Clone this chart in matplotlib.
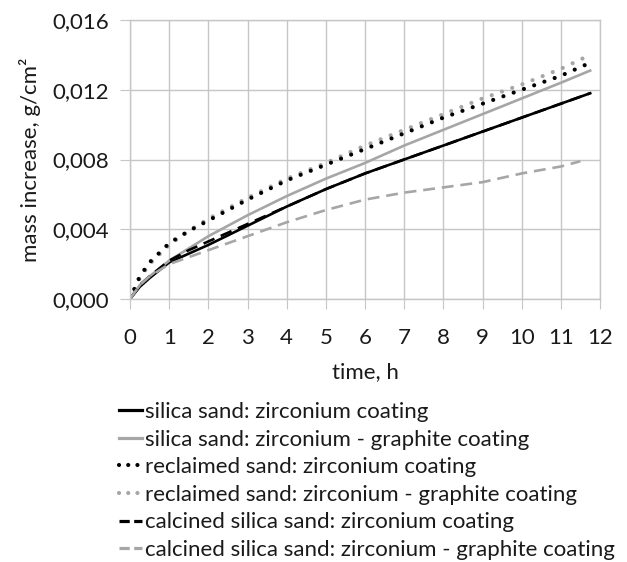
import matplotlib
matplotlib.use("Agg")
import matplotlib.pyplot as plt
from matplotlib.lines import Line2D
from matplotlib.ticker import FuncFormatter

# time, h
t = [0, 0.25, 0.5, 1, 1.5, 2, 3, 4, 5, 6, 7, 8, 9, 10, 11, 11.75]
t_calc_gr = [0, 0.25, 0.5, 1, 1.5, 2, 3, 4, 5, 6, 7, 8, 9, 10, 11, 11.5]

# mass increase, g/cm2
silica_zr = [0, 0.0007, 0.0012, 0.0021, 0.0026, 0.0031, 0.0042, 0.0053, 0.0063, 0.0072,
             0.0080, 0.0088, 0.0096, 0.0104, 0.0112, 0.0118]
silica_gr = [0, 0.0008, 0.0013, 0.0022, 0.0029, 0.0036, 0.0048, 0.0059, 0.0069, 0.0078,
             0.0088, 0.0097, 0.0106, 0.0115, 0.0124, 0.0131]
reclaimed_zr = [0, 0.0013, 0.0021, 0.0032, 0.0039, 0.0045, 0.0057, 0.0068, 0.0077, 0.0086,
                0.0095, 0.0104, 0.0112, 0.0120, 0.0128, 0.01355]
reclaimed_gr = [0, 0.0012, 0.0020, 0.0031, 0.0039, 0.0046, 0.0058, 0.0069, 0.0078, 0.0088,
                0.0097, 0.0106, 0.0115, 0.0123, 0.0132, 0.0140]
calcined_zr = [0, 0.0008, 0.0013, 0.0022, 0.0028, 0.0033, 0.0043, 0.0053, 0.0063, 0.0072,
               0.0080, 0.0088, 0.0096, 0.0104, 0.0112, 0.0118]
calcined_gr = [0, 0.0008, 0.0013, 0.0020, 0.0024, 0.0028, 0.0036, 0.0044, 0.0051, 0.0057,
               0.0061, 0.0064, 0.0067, 0.0072, 0.0076, 0.0079]

labels = [
    "silica sand: zirconium coating",
    "silica sand: zirconium - graphite coating",
    "reclaimed sand: zirconium coating",
    "reclaimed sand: zirconium - graphite coating",
    "calcined silica sand: zirconium coating",
    "calcined silica sand: zirconium - graphite coating",
]

plt.rcParams['font.family'] = ['Lato', 'DejaVu Sans']
plt.rcParams['font.size'] = 16

black = "#000000"
grey = "#a6a6a6"
grid_c = "#c6c6c6"
text_c = "#1a1a1a"

fig = plt.figure(figsize=(6.27, 5.62), dpi=100)
ax = fig.add_axes([130 / 627, 1 - 299 / 562, 470 / 627, 279 / 562])

dots = (0, (0.01, 2.6))
dashes = (0, (4.5, 2.6))
series = [
    (t, silica_zr, black, 1.9, '-'),
    (t, silica_gr, grey, 1.9, '-'),
    (t, reclaimed_zr, black, 3.0, dots),
    (t, reclaimed_gr, grey, 3.0, dots),
    (t, calcined_zr, black, 1.9, dashes),
    (t_calc_gr, calcined_gr, grey, 1.9, dashes),
]
# draw grey dotted under the black dotted one
for i in [0, 1, 3, 2, 4, 5]:
    x, y, c, lw, ls = series[i]
    ax.plot(x, y, color=c, lw=lw, linestyle=ls, dash_capstyle='round' if ls is dots else 'butt')

ax.set_xlim(0, 12)
ax.set_ylim(0, 0.016)
ax.set_xticks(range(0, 13))
ax.set_yticks([0, 0.004, 0.008, 0.012, 0.016])
ax.yaxis.set_major_formatter(FuncFormatter(lambda v, p: f"{v:.3f}".replace(".", ",")))
ax.grid(True, color=grid_c, lw=1.0)
ax.set_axisbelow(True)
for s in ax.spines.values():
    s.set_color(grid_c)
    s.set_linewidth(1.0)
ax.tick_params(direction='out', length=7, color=grid_c, labelcolor=text_c)
ax.tick_params(axis='x', pad=14)
ax.tick_params(axis='y', pad=8)
ax.set_xlabel("time, h", color=text_c, labelpad=10)
ax.set_ylabel("mass increase, g/cm²", color=text_c, labelpad=8)

leg_styles = {'dots': (0, (0.01, 2.2)), 'dashes': (0, (3.2, 1.4))}
handles = []
for x, y, c, lw, ls in series:
    if ls is dots:
        h = Line2D([], [], color=c, lw=lw, linestyle=leg_styles['dots'], dash_capstyle='round')
    elif ls is dashes:
        h = Line2D([], [], color=c, lw=lw + 0.4, linestyle=leg_styles['dashes'])
    else:
        h = Line2D([], [], color=c, lw=lw + 0.4)
    handles.append(h)
fig.legend(handles, labels, loc='upper left',
           bbox_to_anchor=(108 / 627, 1 - 391 / 562), frameon=False,
           handlelength=1.05, handletextpad=0.1, labelspacing=0.34, borderpad=0,
           labelcolor=text_c)

fig.savefig("out.png", dpi=100)
